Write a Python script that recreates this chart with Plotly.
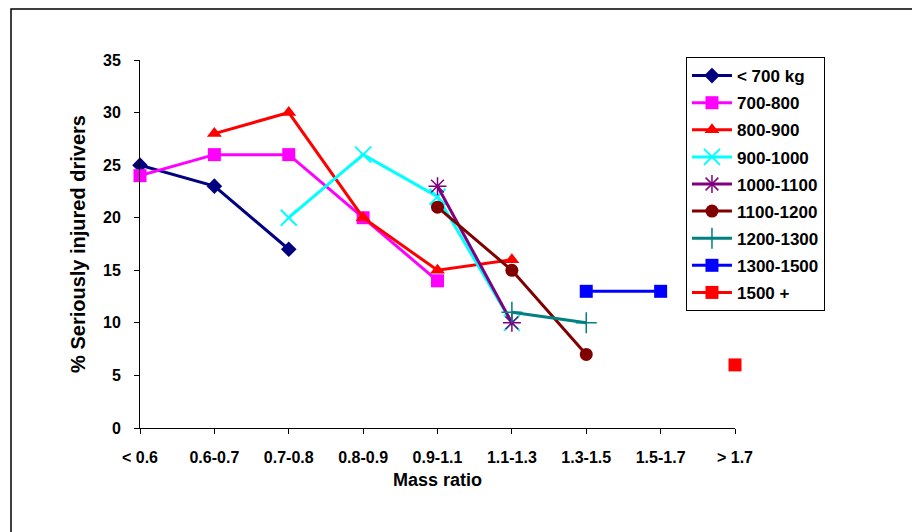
import plotly.graph_objects as go

categories = ["< 0.6", "0.6-0.7", "0.7-0.8", "0.8-0.9", "0.9-1.1", "1.1-1.3", "1.3-1.5", "1.5-1.7", "> 1.7"]

s_lt700 = [25, 23, 17, None, None, None, None, None, None]
s_700_800 = [24, 26, 26, 20, 14, None, None, None, None]
s_800_900 = [None, 28, 30, 20, 15, 16, None, None, None]
s_900_1000 = [None, None, 20, 26, 22, 10, None, None, None]
s_1000_1100 = [None, None, None, None, 23, 10, None, None, None]
s_1100_1200 = [None, None, None, None, 21, 15, 7, None, None]
s_1200_1300 = [None, None, None, None, None, 11, 10, None, None]
s_1300_1500 = [None, None, None, None, None, None, 13, 13, None]
s_1500p = [None, None, None, None, None, None, None, None, 6]

series = [
    ("< 700 kg", s_lt700, "#000080", "diamond", 12, 0),
    ("700-800", s_700_800, "#FF00FF", "square", 13, 0),
    ("800-900", s_800_900, "#FF0000", "triangle-up", 13, 0),
    ("900-1000", s_900_1000, "#00FFFF", "x-thin", 16, 2),
    ("1000-1100", s_1000_1100, "#800080", "asterisk", 15, 1.5),
    ("1100-1200", s_1100_1200, "#800000", "circle", 13, 0),
    ("1200-1300", s_1200_1300, "#008080", "cross-thin", 15, 1.5),
    ("1300-1500", s_1300_1500, "#0000FF", "square", 13, 0),
    ("1500 +", s_1500p, "#FF0000", "square", 13, 0),
]

fig = go.Figure()
for i, (name, vals, color, sym, size, mlw) in enumerate(series):
    fig.add_trace(go.Scatter(
        x=categories, y=vals, name=name, mode="lines+markers",
        legendgroup=f"g{i}",
        line=dict(color=color, width=3),
        marker=dict(symbol=sym, size=size, color=color,
                    line=dict(color=color, width=mlw)),
        connectgaps=False, cliponaxis=False,
    ))

font_family = "Liberation Sans, Arial, sans-serif"

fig.update_layout(
    width=912, height=532,
    margin=dict(l=140, r=177, t=60, b=104),
    paper_bgcolor="white", plot_bgcolor="white",
    font=dict(family=font_family, color="black"),
    showlegend=True,
    legend=dict(
        x=0.9176, y=1.008, xanchor="left", yanchor="top",
        bordercolor="black", borderwidth=1, bgcolor="white",
        font=dict(size=17, family=font_family, weight="bold"),
        traceorder="grouped", tracegroupgap=2,
        itemwidth=40, maxheight=600,
    ),
    xaxis=dict(
        type="category", categoryorder="array", categoryarray=categories,
        range=[0, 8], showgrid=False, zeroline=False,
        showline=True, linecolor="black", linewidth=1,
        ticks="outside", ticklen=5, tickcolor="black",
        tickfont=dict(size=16, weight="bold"),
        ticklabelstandoff=10,
        title=dict(text="Mass ratio", font=dict(size=18, weight="bold"), standoff=8),
    ),
    yaxis=dict(
        range=[0, 35], dtick=5, showgrid=False, zeroline=False,
        showline=True, linecolor="black", linewidth=1,
        ticks="outside", ticklen=5, tickcolor="black",
        tickfont=dict(size=16, weight="bold"),
        ticklabelstandoff=10,
        title=dict(text="% Seriously injured drivers", font=dict(size=20, weight="bold"), standoff=12),
    ),
    shapes=[dict(type="rect", xref="paper", yref="paper",
                 x0=(11 - 140) / 595, x1=(920 - 140) / 595,
                 y0=(428 - 545) / 368, y1=(428 - 9) / 368,
                 line=dict(color="black", width=1.5), fillcolor="rgba(0,0,0,0)", layer="below")],
)

fig.write_html("out.html")
